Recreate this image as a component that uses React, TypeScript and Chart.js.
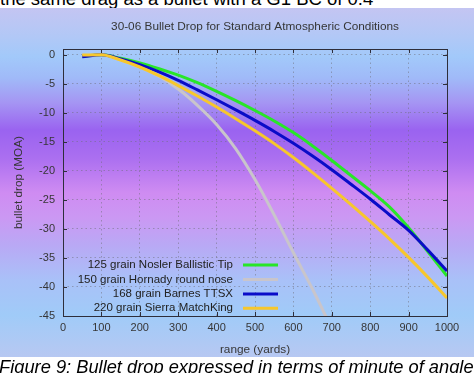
import React, { useEffect, useRef } from 'react';
import { Chart, registerables } from 'chart.js';

Chart.register(...registerables);

const TITLE = '30-06 Bullet Drop for Standard Atmospheric Conditions';
const X_LABEL = 'range (yards)';
const Y_LABEL = 'bullet drop (MOA)';
const TOP_TEXT = 'the same drag as a bullet with a G1 BC of 0.4';
const CAPTION = 'Figure 9: Bullet drop expressed in terms of minute of angle';

const RANGE_YD = [50, 100, 150, 200, 250, 300, 350, 400, 450, 500, 550, 600, 650, 700, 750, 800, 850, 900, 950, 1000];

const SERIES_LABELS = [
  '125 grain Nosler Ballistic Tip',
  '150 grain Hornady round nose',
  '168 grain Barnes TTSX',
  '220 grain Sierra MatchKing',
];

const NOSLER_125 = [-0.3, 0, -0.6, -1.4, -2.4, -3.5, -4.8, -6.3, -7.9, -9.6, -11.4, -13.4, -15.7, -18.2, -20.8, -23.4, -26.2, -29.8, -33.9, -38.1];
const HORNADY_150 = [-0.2, 0, -0.9, -2.1, -3.7, -5.9, -8.7, -12.0, -16.2, -21.5, -27.6, -34.1, -40.4, -47.2];
const BARNES_168 = [-0.35, 0, -0.7, -1.7, -2.95, -4.4, -6.05, -7.75, -9.5, -11.3, -13.2, -15.25, -17.45, -19.8, -22.3, -24.85, -27.55, -30.25, -33.65, -37.25];
const SMK_220 = [-0.05, 0, -0.9, -2.1, -3.6, -5.3, -7.1, -9.0, -11.0, -13.1, -15.3, -17.7, -20.3, -23.0, -25.8, -28.7, -31.7, -34.9, -38.3, -41.9];

const SERIES_VALUES = [NOSLER_125, HORNADY_150, BARNES_168, SMK_220];
const SERIES_COLORS = ['#28e628', '#c9c5cb', '#0a0cc8', '#f7c72c'];

const Y_TICKS = [0, -5, -10, -15, -20, -25, -30, -35, -40, -45];
const Y_MIN = -45;
const Y_MAX = 1;
const X_MIN = 0;
const X_MAX = 1000;
const X_STEP = 100;

const FONT = '"Liberation Sans", Arial, Helvetica, sans-serif';
const TEXT = '#363636';
const GRID = 'rgba(110,110,120,0.5)';
const FRAME = '#2e2e3a';

const GRADIENT =
  'linear-gradient(to bottom, #c4c5f2 0%, #b2c8f6 8%, #a2c9fa 14%, #a0baf8 20%, #a596f3 27%, #9a63f0 35%, #ab6ff0 43%, #cf8cf2 53%, #cb98f3 60%, #b9a9f5 68%, #a9c1f8 78%, #a0cbf8 88%, #b7c8f2 100%)';

const framePlugin = {
  id: 'gnuFrame',
  afterDatasetsDraw(chart: any) {
    const { ctx, chartArea: a, scales } = chart;
    const xs = scales.x;
    const ys = scales.y;
    ctx.save();
    ctx.strokeStyle = FRAME;
    ctx.lineWidth = 1;
    ctx.strokeRect(Math.round(a.left) + 0.5, Math.round(a.top) + 0.5, Math.round(a.right - a.left), Math.round(a.bottom - a.top));
    const tl = 4;
    ctx.beginPath();
    xs.ticks.forEach((t: any) => {
      const px = Math.round(xs.getPixelForValue(t.value)) + 0.5;
      ctx.moveTo(px, a.bottom);
      ctx.lineTo(px, a.bottom - tl);
      ctx.moveTo(px, a.top);
      ctx.lineTo(px, a.top + tl);
    });
    ys.ticks.forEach((t: any) => {
      const py = Math.round(ys.getPixelForValue(t.value)) + 0.5;
      ctx.moveTo(a.left, py);
      ctx.lineTo(a.left + tl, py);
      ctx.moveTo(a.right, py);
      ctx.lineTo(a.right - tl, py);
    });
    ctx.stroke();

    // key, gnuplot style: right-aligned text with a sample line
    ctx.font = '11.5px ' + FONT;
    ctx.textAlign = 'right';
    ctx.textBaseline = 'middle';
    const textRight = a.left + 170;
    const lx1 = a.left + 180;
    const lx2 = a.left + 215;
    chart.data.datasets.forEach((ds: any, i: number) => {
      const y = a.bottom - 7.7 - 14.4 * (chart.data.datasets.length - 1 - i);
      ctx.fillStyle = '#222';
      ctx.fillText(ds.label, textRight, y);
      ctx.strokeStyle = ds.borderColor;
      ctx.lineWidth = 3;
      ctx.beginPath();
      ctx.moveTo(lx1, y);
      ctx.lineTo(lx2, y);
      ctx.stroke();
    });
    ctx.restore();
  },
};

export default function App() {
  const canvasRef = useRef<HTMLCanvasElement | null>(null);

  useEffect(() => {
    const canvas = canvasRef.current;
    if (!canvas) return;
    const datasets = SERIES_LABELS.map((label, i) => ({
      label,
      data: SERIES_VALUES[i].map((v, j) => ({ x: RANGE_YD[j], y: v })),
      borderColor: SERIES_COLORS[i],
      backgroundColor: SERIES_COLORS[i],
      borderWidth: 3,
      pointRadius: 0,
      cubicInterpolationMode: 'monotone' as const,
      fill: false,
      order: SERIES_LABELS.length - i,
    }));

    const tickFont = { family: FONT, size: 11 };
    const titleFont = { family: FONT, size: 11.8, weight: 'normal' as const };

    const chart = new Chart(canvas, {
      type: 'line',
      data: { datasets },
      options: {
        responsive: false,
        animation: false,
        events: [],
        layout: { padding: { left: 0, right: 27, top: 0, bottom: 0 } },
        plugins: {
          legend: { display: false },
          tooltip: { enabled: false },
          title: {
            display: true,
            text: TITLE,
            fullSize: false,
            color: TEXT,
            font: titleFont,
            padding: { top: 12, bottom: 41 - 12 - 11.8 * 1.2 },
          },
        },
        scales: {
          x: {
            type: 'linear',
            min: X_MIN,
            max: X_MAX,
            ticks: {
              stepSize: X_STEP,
              padding: 5,
              color: TEXT,
              font: tickFont,
              maxRotation: 0,
              callback: (v: any) => String(v),
            },
            grid: { color: GRID, drawTicks: false, lineWidth: 1 },
            border: { display: false, dash: [1.5, 3] },
            title: { display: true, text: X_LABEL, color: TEXT, font: titleFont, padding: { top: 0, bottom: 0 } },
            afterFit: (s: any) => {
              s.height = 41;
            },
          },
          y: {
            type: 'linear',
            min: Y_MIN,
            max: Y_MAX,
            afterBuildTicks: (s: any) => {
              s.ticks = Y_TICKS.map((v) => ({ value: v }));
            },
            ticks: { padding: 8, color: TEXT, font: tickFont, callback: (v: any) => String(v) },
            grid: { color: GRID, drawTicks: false, lineWidth: 1 },
            border: { display: false, dash: [1.5, 3] },
            title: { display: true, text: Y_LABEL, color: TEXT, font: titleFont, padding: { top: 12, bottom: 0 } },
            afterFit: (s: any) => {
              s.width = 63;
            },
          },
        },
      },
      plugins: [framePlugin],
    });
    return () => chart.destroy();
  }, []);

  return (
    <div
      style={{
        position: 'absolute',
        left: 0,
        top: 0,
        width: 474,
        height: 373,
        overflow: 'hidden',
        background: '#fff',
        fontFamily: FONT,
      }}
    >
      <div
        style={{
          position: 'absolute',
          left: 0,
          top: -11.3,
          whiteSpace: 'nowrap',
          fontSize: 18.5,
          lineHeight: '20px',
          color: '#000',
        }}
      >
        {TOP_TEXT}
      </div>
      <div style={{ position: 'absolute', left: 0, top: 8, width: 474, height: 349, background: GRADIENT }}>
        <canvas ref={canvasRef} width={474} height={349} style={{ display: 'block', width: 474, height: 349 }} />
      </div>
      <div
        style={{
          position: 'absolute',
          left: -1,
          top: 357.2,
          whiteSpace: 'nowrap',
          fontSize: 18.3,
          fontStyle: 'italic',
          lineHeight: '20px',
          color: '#000',
        }}
      >
        {CAPTION}
      </div>
    </div>
  );
}
